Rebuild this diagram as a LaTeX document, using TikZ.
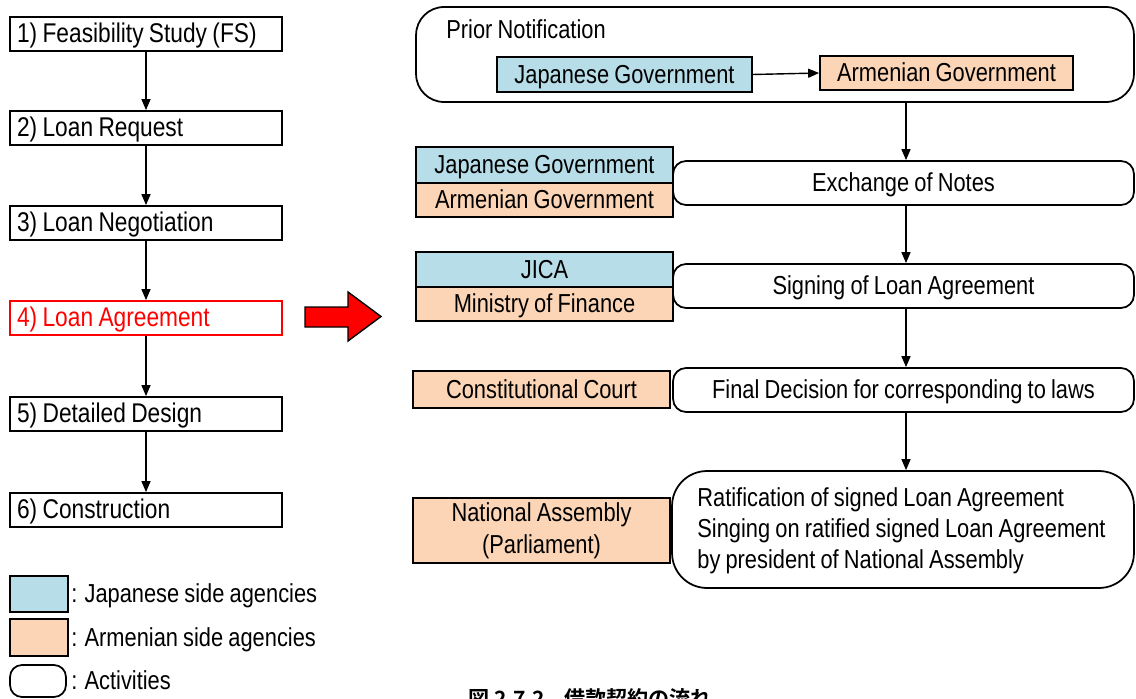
\documentclass[tikz,border=0pt]{standalone}
\usepackage{fontspec}
\setmainfont{Liberation Sans}[FakeStretch=0.84,WordSpace=0.85]
\newfontfamily\cjkfont{Noto Sans CJK JP}[BoldFont={* Bold}]
\usetikzlibrary{arrows.meta}
\definecolor{jpblue}{HTML}{B7DDE8}
\definecolor{amorange}{HTML}{FBD5B5}
\begin{document}
\begin{tikzpicture}[x=0.02cm,y=-0.02cm,
  font=\fontsize{14.8pt}{17pt}\selectfont,
  oneline/.style={text height=12.9pt,text depth=3.1pt},
  flow/.style={draw,line width=1pt,inner sep=0pt,minimum width=5.44cm,minimum height=0.68cm,
    text width=5.16cm,inner xsep=0.14cm,align=flush left,
    font=\fontsize{15.4pt}{17pt}\selectfont,text height=13.4pt,text depth=3.2pt},
  agency/.style={draw,line width=1pt,inner sep=0pt,minimum width=5.14cm,align=center},
  jp/.style={agency,oneline,fill=jpblue},
  am/.style={agency,fill=amorange},
  activity/.style={draw,oneline,line width=1pt,rounded corners=0.26cm,inner sep=0pt,minimum width=9.22cm,
    minimum height=0.88cm,align=center},
  link/.style={line width=0.8pt,-{Triangle[length=0.22cm,width=0.18cm]}}]
\useasboundingbox (0,0) rectangle (1136,699);
\clip (0,0) rectangle (1136,699);

% project stages
\node[flow] (s1) at (146,34) {1) Feasibility Study (FS)};
\node[flow] (s2) at (146,128) {2) Loan Request};
\node[flow] (s3) at (146,223) {3) Loan Negotiation};
\node[flow,draw=red,text=red] (s4) at (146,318) {4) Loan Agreement};
\node[flow] (s5) at (146,414) {5) Detailed Design};
\node[flow] (s6) at (146,510) {6) Construction};
\foreach \a/\b in {s1/s2,s2/s3,s3/s4,s4/s5,s5/s6}
  \draw[link] (\a) -- (\b);

% block arrow pointing to the detail
\draw[line width=0.8pt,fill=red] (305,307) -- (348,307) -- (348,292) -- (381,316.5)
  -- (348,341) -- (348,327) -- (305,327) -- cycle;

% legend
\node[jp,minimum width=1.16cm,minimum height=0.72cm] (lj) at (39,594) {};
\node[am,minimum width=1.16cm,minimum height=0.74cm] (la) at (39,637.5) {};
\node[draw,line width=1pt,rounded corners=0.24cm,minimum width=1.12cm,minimum height=0.64cm] (lr) at (38,681) {};
\node[anchor=west,inner sep=0pt,oneline] (tj) at (71,594) {: Japanese side agencies};
\node[anchor=west,inner sep=0pt,oneline] (ta) at (71,637.5) {: Armenian side agencies};
\node[anchor=west,inner sep=0pt,oneline] (tr) at (71,681) {: Activities};

% prior notification
\node[draw,line width=1pt,rounded corners=0.56cm,minimum width=14.36cm,minimum height=1.9cm] (pn) at (775,54.5) {};
\node[anchor=west,inner sep=0pt,oneline] (pnt) at (446,30) {Prior Notification};
\node[jp,minimum width=5.1cm,minimum height=0.7cm] (jg1) at (624.5,74.5) {Japanese Government};
\node[am,oneline,minimum width=5.06cm,minimum height=0.68cm] (ag1) at (946.5,73) {Armenian Government};
\draw[link] (jg1.east) -- (ag1.west);

\coordinate (col) at (906,0);

% exchange of notes
\node[activity] (ex) at (903.5,183) {Exchange of Notes};
\node[jp,minimum height=0.72cm] (jg2) at (544.5,165) {Japanese Government};
\node[am,oneline,minimum height=0.68cm] (ag2) at (544.5,200) {Armenian Government};

% signing
\node[activity] (sg) at (903.5,286) {Signing of Loan Agreement};
\node[jp,minimum height=0.7cm] (jica) at (544.5,269.5) {JICA};
\node[am,oneline,minimum height=0.68cm] (mof) at (544.5,304) {Ministry of Finance};

% final decision
\node[activity] (fd) at (903.5,390) {Final Decision for corresponding to laws};
\node[am,oneline,minimum height=0.74cm] (cc) at (541.5,389.5) {Constitutional Court};

% ratification
\node[draw,line width=1pt,rounded corners=0.7cm,minimum width=9.24cm,minimum height=2.34cm] (rt) at (903,529.5) {};
\node[anchor=west,align=left,inner sep=0pt,font=\fontsize{14.8pt}{17.7pt}\selectfont] (rtt) at (697,531)
  {Ratification of signed Loan Agreement\\Singing on ratified signed Loan Agreement\\by president of National Assembly};
\node[am,minimum height=1.3cm,font=\fontsize{14.8pt}{18pt}\selectfont] (na) at (541.5,530.5) {National Assembly\\(Parliament)};

\draw[link] (pn.south -| col) -- (ex.north -| col);
\draw[link] (ex.south -| col) -- (sg.north -| col);
\draw[link] (sg.south -| col) -- (fd.north -| col);
\draw[link] (fd.south -| col) -- (rt.north -| col);

% caption
\node[anchor=base west,inner sep=0pt,font=\cjkfont\bfseries\fontsize{12pt}{14pt}\selectfont] (cap) at (468,706)
  {図 2.7.2\hspace{0.9em}借款契約の流れ};
\end{tikzpicture}
\end{document}
